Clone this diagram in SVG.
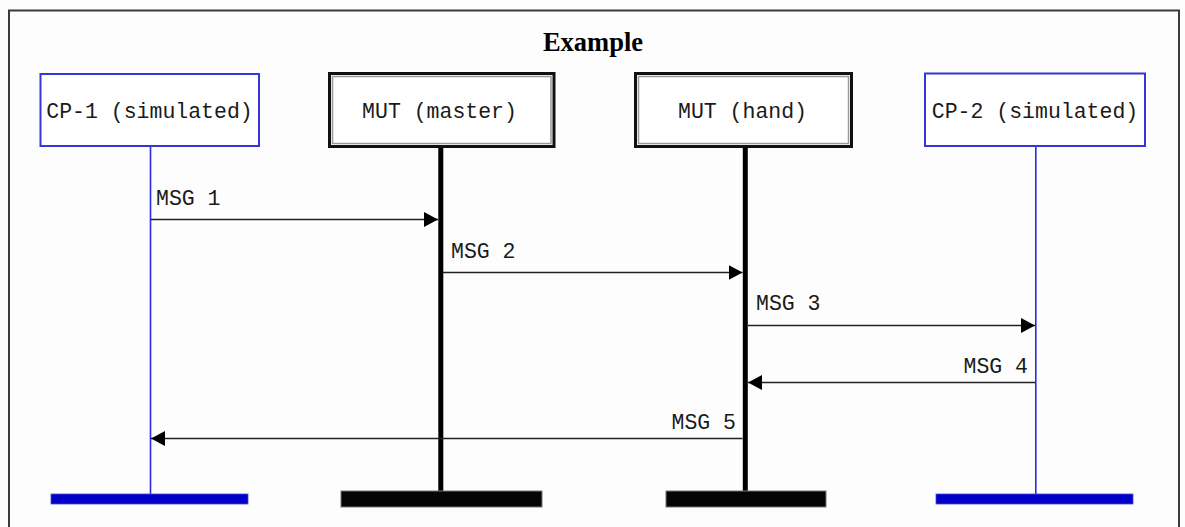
<svg xmlns="http://www.w3.org/2000/svg" width="1185" height="527" viewBox="0 0 1185 527">
  <style>
    .mono { font-family: "Liberation Mono", "Courier New", monospace; font-size: 21.5px; fill: #1a1a1a; }
    .title { font-family: "Liberation Serif", "Times New Roman", serif; font-size: 26.5px; font-weight: bold; fill: #000; }
    .simbox { fill: #fff; stroke: #3535d8; stroke-width: 2; }
    .simline { stroke: #2b2be0; stroke-width: 1.6; }
    .simbar { fill: #0000c8; stroke: #4a4ad8; stroke-width: 0.8; }
    .mutouter { fill: #fff; stroke: #111; stroke-width: 3; }
    .mutinner { fill: none; stroke: #999; stroke-width: 1.5; }
    .mutline { stroke: #000; stroke-width: 5; }
    .mutbar { fill: #050505; stroke: #777; stroke-width: 1; }
    .msg { stroke: #222; stroke-width: 1.5; fill: none; marker-end: url(#head); }
  </style>
  <defs>
    <marker id="head" viewBox="0 0 14 15" refX="14" refY="7.5" markerWidth="14" markerHeight="15" markerUnits="userSpaceOnUse" orient="auto">
      <path d="M0,0 L14,7.5 L0,15 Z" fill="#000"/>
    </marker>
  </defs>

  <rect x="0" y="0" width="1185" height="527" fill="#fdfdfd"/>
  <!-- outer frame -->
  <path d="M9,540 L9,10.5 L1179,10.5 L1179,540" fill="none" stroke="#3a3a3a" stroke-width="2"/>

  <text class="title" x="593" y="51" text-anchor="middle">Example</text>

  <g id="cp1">
    <line class="simline" x1="150.5" y1="146" x2="150.5" y2="494"/>
    <rect class="simbox" x="40.5" y="74" width="218.5" height="72"/>
    <text class="mono" x="149.5" y="118" text-anchor="middle">CP-1 (simulated)</text>
    <rect class="simbar" x="51" y="494" width="197" height="10"/>
  </g>

  <g id="mut-master">
    <line class="mutline" x1="440.8" y1="148" x2="440.8" y2="492"/>
    <rect class="mutouter" x="329.5" y="73.5" width="224.5" height="73"/>
    <rect class="mutinner" x="332.5" y="76.5" width="218.5" height="67"/>
    <text class="mono" x="439.5" y="118" text-anchor="middle">MUT (master)</text>
    <rect class="mutbar" x="341" y="491" width="201" height="16"/>
  </g>

  <g id="mut-hand">
    <line class="mutline" x1="745.3" y1="148" x2="745.3" y2="492"/>
    <rect class="mutouter" x="635.5" y="73.5" width="216" height="73"/>
    <rect class="mutinner" x="638.5" y="76.5" width="210" height="67"/>
    <text class="mono" x="742.5" y="118" text-anchor="middle">MUT (hand)</text>
    <rect class="mutbar" x="666" y="491" width="160" height="16"/>
  </g>

  <g id="cp2">
    <line class="simline" x1="1035.8" y1="146" x2="1035.8" y2="494"/>
    <rect class="simbox" x="925" y="73.5" width="220" height="72.5"/>
    <text class="mono" x="1035" y="118" text-anchor="middle">CP-2 (simulated)</text>
    <rect class="simbar" x="936" y="494" width="197" height="10"/>
  </g>

  <g id="connectors">
    <line class="msg" x1="151" y1="219.5" x2="438" y2="219.5"/>
    <text class="mono" x="156" y="205">MSG 1</text>

    <line class="msg" x1="443" y1="272.5" x2="742.5" y2="272.5"/>
    <text class="mono" x="451" y="258">MSG 2</text>

    <line class="msg" x1="748" y1="325.5" x2="1035" y2="325.5"/>
    <text class="mono" x="756" y="310">MSG 3</text>

    <line class="msg" x1="1035" y1="382.5" x2="748" y2="382.5"/>
    <text class="mono" x="1028" y="373" text-anchor="end">MSG 4</text>

    <line class="msg" x1="742.5" y1="438.5" x2="151" y2="438.5"/>
    <text class="mono" x="736" y="429" text-anchor="end">MSG 5</text>
  </g>
</svg>
